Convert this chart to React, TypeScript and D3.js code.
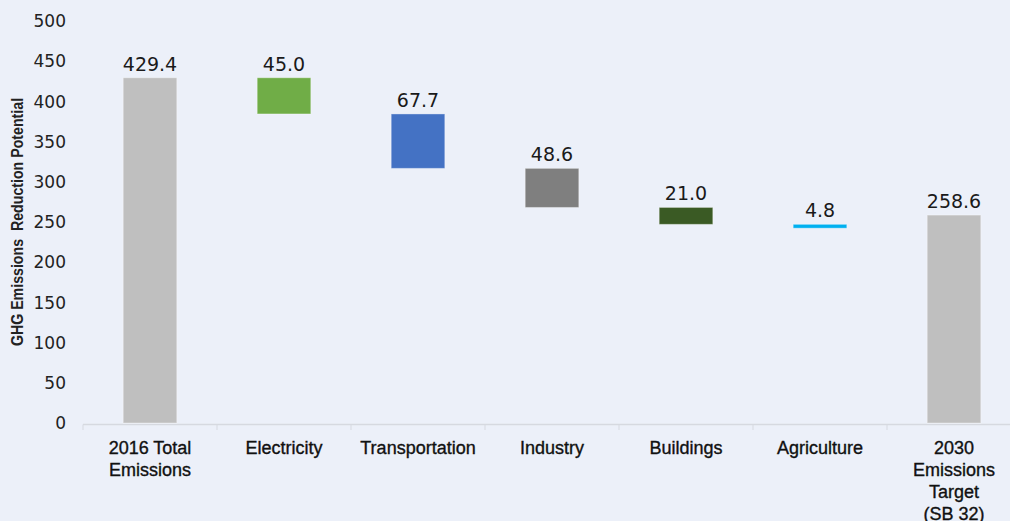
import React from 'react';
import * as d3 from 'd3';

// categories (multi-line labels) and values
const categories = [
  ['2016 Total', 'Emissions'],
  ['Electricity'],
  ['Transportation'],
  ['Industry'],
  ['Buildings'],
  ['Agriculture'],
  ['2030', 'Emissions', 'Target', '(SB 32)'],
];
const values = [429.4, 45.0, 67.7, 48.6, 21.0, 4.8, 258.6];
const kinds = ['total', 'delta', 'delta', 'delta', 'delta', 'delta', 'total'];
const colors = ['#bfbfbf', '#70ad47', '#4472c4', '#7f7f7f', '#3a5a24', '#00b0f0', '#bfbfbf'];
const yTicks = [0, 50, 100, 150, 200, 250, 300, 350, 400, 450, 500];

const W = 1010;
const H = 521;

export default function App() {
  const x = d3
    .scaleBand<number>()
    .domain(d3.range(categories.length))
    .range([83, 83 + 134 * categories.length])
    .paddingInner(0.6)
    .paddingOuter(0.3);
  const y = d3.scaleLinear().domain([0, 500]).range([423, 21]);

  // waterfall: deltas step down from the running total
  let running = 0;
  const bars = values.map((v, i) => {
    let lo: number, hi: number;
    if (kinds[i] === 'total') {
      lo = 0;
      hi = v;
      running = v;
    } else {
      hi = running;
      lo = running - v;
      running = lo;
    }
    return { i, v, lo, hi };
  });

  const step = 134;
  const boundaries = d3.range(categories.length + 1).map((i) => 83 + step * i);

  return (
    <svg
      width={W}
      height={H}
      style={{ position: 'fixed', left: 0, top: 0, background: '#ecf0f9' }}
    >
      <rect width={W} height={H} fill="#ecf0f9" />

      {/* y axis label, squeezed along its length like the narrow original */}
      <text
        transform="translate(23,222) rotate(-90) scale(0.86,1)"
        textAnchor="middle"
        fontFamily="'Liberation Sans', Arial, sans-serif"
        fontWeight="bold"
        fontSize={16.5}
        fill="#222"
      >
        GHG Emissions{'\u00a0\u00a0'}Reduction Potential
      </text>

      {/* y ticks */}
      {yTicks.map((t) => (
        <text
          key={t}
          x={66}
          y={y(t)}
          dy="0.36em"
          textAnchor="end"
          fontFamily="'DejaVu Sans', sans-serif"
          fontSize={17}
          fill="#222"
        >
          {t}
        </text>
      ))}

      {/* x axis */}
      <line x1={83} x2={W} y1={424.5} y2={424.5} stroke="#d6d9e0" strokeWidth={1.5} />
      {boundaries.map((bx) => (
        <line key={bx} x1={bx} x2={bx} y1={424.5} y2={430} stroke="#d6d9e0" strokeWidth={1} />
      ))}

      {/* bars */}
      {bars.map((b) => (
        <rect
          key={b.i}
          x={x(b.i)}
          y={y(b.hi)}
          width={x.bandwidth()}
          height={Math.max(y(b.lo) - y(b.hi), 1)}
          fill={colors[b.i]}
          stroke="rgba(255,255,255,0.35)"
          strokeWidth={1}
        />
      ))}

      {/* value labels */}
      {bars.map((b) => (
        <text
          key={'v' + b.i}
          x={(x(b.i) as number) + x.bandwidth() / 2}
          y={y(b.hi) - 7}
          textAnchor="middle"
          fontFamily="'DejaVu Sans', sans-serif"
          fontSize={19}
          fill="#1a1a1a"
        >
          {b.v.toFixed(1)}
        </text>
      ))}

      {/* category labels */}
      {categories.map((lines, i) => (
        <text
          key={'c' + i}
          x={(x(i) as number) + x.bandwidth() / 2}
          y={454}
          textAnchor="middle"
          fontFamily="'Liberation Sans', Arial, sans-serif"
          fontSize={18}
          fill="#111"
          stroke="#111"
          strokeWidth={0.35}
        >
          {lines.map((l, k) => (
            <tspan key={k} x={(x(i) as number) + x.bandwidth() / 2} dy={k === 0 ? 0 : 22}>
              {l}
            </tspan>
          ))}
        </text>
      ))}
    </svg>
  );
}
